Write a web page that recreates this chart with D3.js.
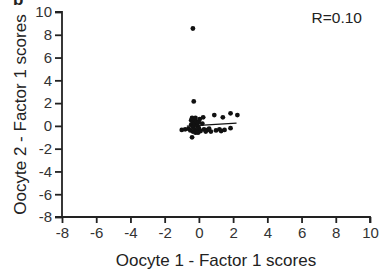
<!DOCTYPE html>
<html>
<head>
<meta charset="UTF-8">
<title>Oocyte factor scores</title>
<script src="https://cdn.jsdelivr.net/npm/d3@7"></script>
<style>
body{margin:0;background:#fff;}
text{font-family:"Liberation Sans",Arial,sans-serif;fill:#222;}
</style>
</head>
<body>
<div id="chart"></div>
<script>
var w=380,h=279;

// oocyte 1 / oocyte 2 factor 1 scores
var xs=[-0.35,-0.3,-1.0,-0.8,-0.6,-0.5,-0.45,-0.45,-0.4,-0.35,-0.35,-0.35,-0.4,-0.3,-0.25,-0.25,-0.2,-0.2,-0.15,-0.1,-0.1,0.0,0.05,0.1,0.2,0.25,0.3,0.4,0.5,0.6,0.7,0.9,1.0,1.2,1.3,1.4,1.5,1.85,1.85,2.25,0.0,-0.05];
var ys=[8.55,2.15,-0.35,-0.3,-0.25,-0.4,0.1,0.5,0.7,0.3,-0.1,-0.5,-1.0,0.6,0.2,-0.3,0.7,-0.6,0.4,0.0,-0.4,-0.2,0.6,-0.45,0.2,0.75,-0.3,-0.5,-0.35,-0.25,-0.5,0.95,-0.4,-0.3,-0.45,0.75,-0.35,1.1,-0.2,0.95,0.3,-0.6];
// fitted line ends
var fitX=[-0.7,2.2];
var fitY=[-0.02,0.24];
var ticks=[-8,-6,-4,-2,0,2,4,6,8,10];

var x=d3.scaleLinear().domain([-8,10]).range([62,370]);
var y=d3.scaleLinear().domain([-8,10]).range([217,12]);

var svg=d3.select('#chart').append('svg')
  .attr('width',w).attr('height',h);

// panel letter, cut off at top like the source
svg.append('text').attr('x',13).attr('y',5)
  .style('font-size','17px').style('font-weight','bold').text('b');

var fmt=function(d){return String(d);}; // plain hyphen minus
var gx=svg.append('g').attr('transform','translate(0,'+y(-8)+')')
  .call(d3.axisBottom(x).tickValues(ticks).tickSize(6).tickPadding(4).tickFormat(fmt));
var gy=svg.append('g').attr('transform','translate('+x(-8)+',0)')
  .call(d3.axisLeft(y).tickValues(ticks).tickSize(7).tickPadding(3).tickFormat(fmt));

[gx,gy].forEach(function(g){
  g.select('.domain').attr('stroke','#222').attr('stroke-width',1.8);
  g.selectAll('.tick line').attr('stroke','#222').attr('stroke-width',1.8);
  g.selectAll('.tick text').style('font-size','15px').style('fill','#333')
    .style('font-family','"Liberation Sans",Arial,sans-serif');
});
gy.select('.domain').attr('d','M-7,'+y(10)+'H0V'+(y(-8)+1));
gx.select('.domain').attr('d','M'+(x(-8)-7)+',0H'+x(10)+'V6');

svg.append('text').attr('x',216).attr('y',266).attr('text-anchor','middle')
  .style('font-size','17px').text('Oocyte 1 - Factor 1 scores');
svg.append('text').attr('transform','translate(26,'+((y(10)+y(-8))/2)+') rotate(-90)')
  .attr('text-anchor','middle').style('font-size','17px').text('Oocyte 2 - Factor 1 scores');

svg.append('text').attr('x',362).attr('y',23).attr('text-anchor','end')
  .style('font-size','15.5px').text('R=0.10');

svg.selectAll('circle.pt').data(xs).enter().append('circle')
  .attr('class','pt')
  .attr('cx',function(d){return x(d);})
  .attr('cy',function(d,i){return y(ys[i]);})
  .attr('r',2.4).attr('fill','#111');

svg.append('line')
  .attr('x1',x(fitX[0])).attr('y1',y(fitY[0]))
  .attr('x2',x(fitX[1])).attr('y2',y(fitY[1]))
  .attr('stroke','#111').attr('stroke-width',1.3);
</script>
</body>
</html>
